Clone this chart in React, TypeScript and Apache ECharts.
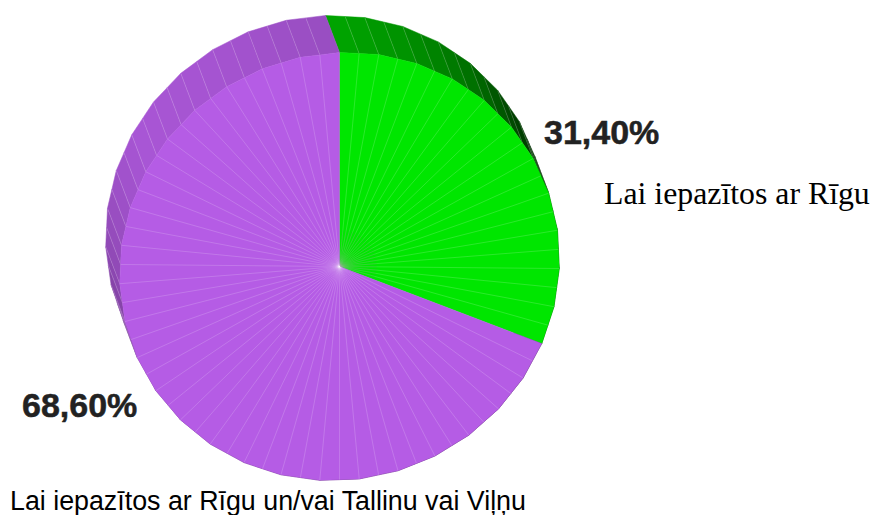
import React, { useEffect, useRef } from "react";
import * as echarts from "echarts";

const sliceNames = ["Lai iepazītos ar Rīgu", "Lai iepazītos ar Rīgu un/vai Tallinu vai Viļņu"];
const sliceValues = [31.4, 68.6];
const sliceColors = ["#00e600", "#b55ce5"];

const FACETS = 70;
const CX = 339.5, CY = 266.5, RX = 220, RY = 214, SHEAR = 7.6;
const OFF_X = -14, OFF_Y = -37;
const TOTAL = sliceValues.reduce((a, b) => a + b, 0);
const wallShade: number[][] = [[0, .72], [20, .63], [40, .48], [55, .31], [70, .2], [250, .68], [270, .8], [300, .93], [330, .91], [360, .84]];
const LINE = "rgba(255,255,255,0.34)";

function corner(i: number): number[] {
  const t = (i * 2 * Math.PI) / FACETS;
  return [CX + RX * Math.sin(t), CY - (RY * Math.cos(t) + SHEAR * Math.sin(t))];
}
function rim(i: number): number[] {
  if (i % 2 === 0) return corner(i);
  const a = corner(i - 1), b = corner(i + 1);
  return [(a[0] + b[0]) / 2, (a[1] + b[1]) / 2];
}
function shadeAt(deg: number): number {
  for (let k = 1; k < wallShade.length; k++) {
    const [a, sa] = wallShade[k - 1], [b, sb] = wallShade[k];
    if (deg <= b) return sa + ((sb - sa) * (deg - a)) / (b - a);
  }
  return 1;
}
function darken(hex: string, s: number): string {
  const n = parseInt(hex.slice(1), 16);
  return `rgb(${Math.round(((n >> 16) & 255) * s)},${Math.round(((n >> 8) & 255) * s)},${Math.round((n & 255) * s)})`;
}
function sliceRange(index: number, value: number): number[] {
  let before = 0;
  for (let k = 0; k < index; k++) before += sliceValues[k];
  return [Math.round((before / TOTAL) * FACETS), Math.round(((before + value) / TOTAL) * FACETS)];
}
const fmt = (v: number) => v.toFixed(2).replace(".", ",") + "%";

function renderWall(params: any, api: any) {
  const [a, b] = sliceRange(params.dataIndex, api.value(0));
  const color = sliceColors[params.dataIndex];
  const children: any[] = [];
  for (let i = a; i < b; i++) {
    const p = rim(i), q = rim(i + 1);
    const fill = darken(color, shadeAt(((i + 0.5) * 360) / FACETS));
    children.push({
      type: "polygon",
      shape: { points: [p, q, [q[0] + OFF_X, q[1] + OFF_Y], [p[0] + OFF_X, p[1] + OFF_Y]] },
      style: { fill, stroke: fill, lineWidth: 0.5 },
    });
  }
  for (let i = a + 1; i < b; i++) {
    const p = rim(i);
    children.push({
      type: "line",
      shape: { x1: p[0], y1: p[1], x2: p[0] + OFF_X, y2: p[1] + OFF_Y },
      style: { stroke: LINE, lineWidth: 0.5 },
    });
  }
  return { type: "group", children };
}

function renderFace(params: any, api: any) {
  const [a, b] = sliceRange(params.dataIndex, api.value(0));
  const color = sliceColors[params.dataIndex];
  const pts: number[][] = [[CX, CY]];
  for (let i = a; i <= b; i++) pts.push(rim(i));
  const children: any[] = [
    { type: "polygon", shape: { points: pts }, style: { fill: color, stroke: color, lineWidth: 0.4 } },
  ];
  for (let i = a + 1; i < b; i++) {
    const p = rim(i);
    children.push({
      type: "line",
      shape: { x1: CX, y1: CY, x2: p[0], y2: p[1] },
      style: { stroke: LINE, lineWidth: 0.5 },
    });
    if (params.dataIndex === 0) {
      const f = 0.17;
      children.push({
        type: "line",
        shape: { x1: CX, y1: CY, x2: CX + (p[0] - CX) * f, y2: CY + (p[1] - CY) * f },
        style: { stroke: "rgba(90,90,90,0.22)", lineWidth: 0.7 },
      });
    }
  }
  return { type: "group", children };
}

const seriesData = sliceNames.map((name, i) => ({ name, value: [sliceValues[i]] }));

export default function App() {
  const ref = useRef<HTMLDivElement>(null);
  useEffect(() => {
    const chart = echarts.init(ref.current!, undefined, { renderer: "svg" });
    const bold = 'bold 34px "Liberation Sans", Arial, sans-serif';
    chart.setOption({
      animation: false,
      backgroundColor: "#ffffff",
      series: [
        { type: "custom", coordinateSystem: "none", renderItem: renderWall, data: seriesData, silent: true, z: 1 },
        { type: "custom", coordinateSystem: "none", renderItem: renderFace, data: seriesData, silent: true, z: 2 },
      ],
      graphic: [
        { type: "text", x: 544, y: 132, z: 5, style: { text: fmt(sliceValues[0]), font: bold, fill: "#222", stroke: "#222", lineWidth: 0.5, verticalAlign: "middle" } },
        { type: "text", x: 22, y: 405, z: 5, style: { text: fmt(sliceValues[1]), font: bold, fill: "#222", stroke: "#222", lineWidth: 0.5, verticalAlign: "middle" } },
        { type: "text", x: 604, y: 193, z: 5, style: { text: sliceNames[0], font: '31.8px "Liberation Serif", "Times New Roman", serif', fill: "#000", verticalAlign: "middle" } },
        { type: "text", x: 10, y: 500.5, z: 5, style: { text: sliceNames[1], font: '26.8px "Liberation Sans", Arial, sans-serif', fill: "#000", verticalAlign: "middle" } },
      ],
    });
    return () => chart.dispose();
  }, []);
  return <div ref={ref} style={{ position: "fixed", left: 0, top: 0, width: 875, height: 515 }} />;
}
